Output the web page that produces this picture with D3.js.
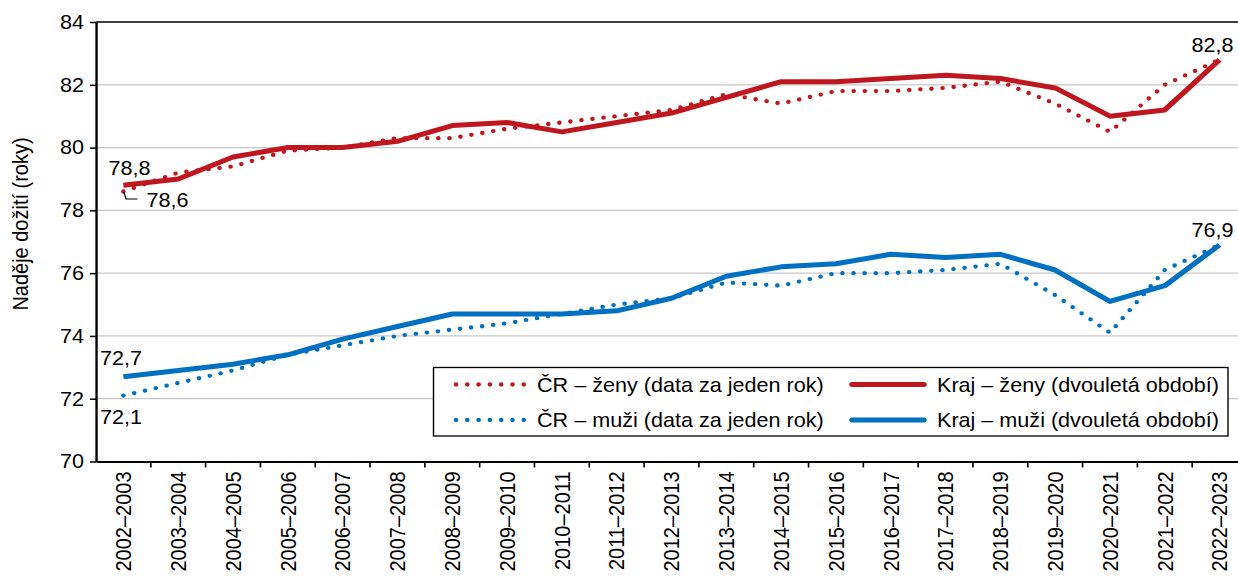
<!DOCTYPE html>
<html>
<head>
<meta charset="utf-8">
<script src="https://cdn.jsdelivr.net/npm/d3@7"></script>
<style>
  body { margin: 0; background: #fff; }
  svg { display: block; font-family: Arial, "Liberation Sans", sans-serif; }
</style>
</head>
<body>
<div id="chart"></div>
<script>
var categories = ["2002–2003", "2003–2004", "2004–2005", "2005–2006", "2006–2007", "2007–2008",
    "2008–2009", "2009–2010", "2010–2011", "2011–2012", "2012–2013", "2013–2014", "2014–2015",
    "2015–2016", "2016–2017", "2017–2018", "2018–2019", "2019–2020", "2020–2021", "2021–2022", "2022–2023"];

var crZeny   = [78.6, 79.2, 79.4, 79.9, 80.0, 80.3, 80.3, 80.6, 80.8, 81.0, 81.2, 81.7, 81.4, 81.8, 81.8, 81.9, 82.1, 81.4, 80.5, 82.0, 82.8];
var krajZeny = [78.8, 79.0, 79.7, 80.0, 80.0, 80.2, 80.7, 80.8, 80.5, 80.8, 81.1, 81.6, 82.1, 82.1, 82.2, 82.3, 82.2, 81.9, 81.0, 81.2, 82.8];
var crMuzi   = [72.1, 72.5, 72.9, 73.4, 73.7, 74.0, 74.2, 74.4, 74.7, 75.0, 75.2, 75.7, 75.6, 76.0, 76.0, 76.1, 76.3, 75.3, 74.1, 76.1, 76.9];
var krajMuzi = [72.7, 72.9, 73.1, 73.4, 73.9, 74.3, 74.7, 74.7, 74.7, 74.8, 75.2, 75.9, 76.2, 76.3, 76.6, 76.5, 76.6, 76.1, 75.1, 75.6, 76.9];

var yTicks = [70, 72, 74, 76, 78, 80, 82, 84];

var red = "#c0161f", blue = "#0070c0";

// the original picture is a bit wider than tall, so stretch x
var S = 1.08;
var width = 1238, height = 581;
var innerW = width / S;

var x = d3.scaleBand()
    .domain(categories)
    .range([96 / S, 1247 / S]);

var y = d3.scaleLinear()
    .domain([70, 84])
    .range([461.5, 22]);

var cz = d3.formatLocale({decimal: ",", thousands: " ", grouping: [3], currency: ["", " Kč"]});
var fmt = cz.format(".1f");

var svg = d3.select("#chart").append("svg")
    .attr("width", width)
    .attr("height", height)
    .attr("viewBox", "0 0 " + innerW + " " + height)
    .attr("preserveAspectRatio", "none");

var x0 = x.range()[0], x1 = x.range()[1];
function cx(i) { return x(categories[i]) + x.bandwidth() / 2; }

// gridlines
svg.append("g").selectAll("line")
    .data(yTicks.filter(function(d) { return d > 70 && d < 84; }))
    .enter().append("line")
    .attr("x1", x0).attr("x2", x1)
    .attr("y1", function(d) { return y(d); })
    .attr("y2", function(d) { return y(d); })
    .attr("stroke", "#c8c8c8")
    .attr("stroke-width", 1.3);

// top border
svg.append("line")
    .attr("x1", x0).attr("x2", x1)
    .attr("y1", y(84)).attr("y2", y(84))
    .attr("stroke", "#000").attr("stroke-width", 1.6);

// y axis
var yAxis = svg.append("g")
    .attr("transform", "translate(" + x0 + ",0)")
    .call(d3.axisLeft(y).tickValues(yTicks).tickSize(6 / S).tickSizeOuter(0).tickPadding(6 / S).tickFormat(d3.format("d")));
yAxis.select(".domain").attr("stroke-width", 2.2);
yAxis.selectAll(".tick line").attr("stroke-width", 1.5);
yAxis.selectAll("text").style("font-size", "20px").attr("fill", "#000");

// x axis, ticks between categories
var xAxis = svg.append("g")
    .attr("transform", "translate(0," + y(70) + ")")
    .call(d3.axisBottom(x).tickSize(0).tickSizeOuter(0));
xAxis.select(".domain").attr("stroke-width", 2.2);
xAxis.selectAll(".tick text")
    .style("font-size", "20px")
    .attr("fill", "#000")
    .attr("transform", "rotate(-90)")
    .attr("x", -10)
    .attr("y", 0)
    .attr("dy", "0.36em")
    .style("text-anchor", "end");
xAxis.append("g").selectAll("line")
    .data(categories.slice(1))
    .enter().append("line")
    .attr("x1", function(d) { return x(d); })
    .attr("x2", function(d) { return x(d); })
    .attr("y1", 0).attr("y2", 6)
    .attr("stroke", "#000").attr("stroke-width", 1.5);

svg.append("text")
    .attr("transform", "translate(" + (20 / S) + "," + 224 + ") rotate(-90)")
    .attr("text-anchor", "middle")
    .attr("dy", "0.35em")
    .style("font-size", "20px")
    .text("Naděje dožití (roky)");

var line = d3.line()
    .x(function(d, i) { return cx(i); })
    .y(function(d) { return y(d); });

var series = [
    {data: krajZeny, color: red, dotted: false},
    {data: krajMuzi, color: blue, dotted: false},
    {data: crZeny, color: red, dotted: true},
    {data: crMuzi, color: blue, dotted: true}
];

svg.append("g").selectAll("path")
    .data(series)
    .enter().append("path")
    .attr("d", function(d) { return line(d.data); })
    .attr("fill", "none")
    .attr("stroke", function(d) { return d.color; })
    .attr("stroke-width", function(d) { return d.dotted ? 4.3 : 5; })
    .attr("stroke-linecap", function(d) { return d.dotted ? "round" : "butt"; })
    .attr("stroke-linejoin", "round")
    .attr("stroke-dasharray", function(d) { return d.dotted ? "0 10.3" : null; });

// data labels
var last = categories.length - 1;
var labels = [
    {i: 0, v: krajZeny[0], dx: -15, dy: -10, anchor: "start"},
    {i: 0, v: crZeny[0], dx: 23, dy: 15.5, anchor: "start"},
    {i: 0, v: krajMuzi[0], dx: -23.5, dy: -11.5, anchor: "start"},
    {i: 0, v: crMuzi[0], dx: -23.5, dy: 28.5, anchor: "start"},
    {i: last, v: krajZeny[last], dx: -7, dy: -8, anchor: "middle"},
    {i: last, v: krajMuzi[last], dx: -7, dy: -8, anchor: "middle"}
];
svg.append("g").selectAll("text")
    .data(labels)
    .enter().append("text")
    .attr("x", function(d) { return cx(d.i) + d.dx / S; })
    .attr("y", function(d) { return y(d.v) + d.dy; })
    .attr("text-anchor", function(d) { return d.anchor; })
    .style("font-size", "20px")
    .text(function(d) { return fmt(d.v); });

// leader for 78,6
var lx = cx(0), ly = y(crZeny[0]);
svg.append("path")
    .attr("d", d3.line()([[lx + 0.5 / S, ly + 0.5], [lx + 2.6 / S, ly + 7.5], [lx + 14 / S, ly + 7.5]]))
    .attr("fill", "none")
    .attr("stroke", "#000")
    .attr("stroke-width", 1.1);

// legend
var legendItems = [
    {name: "ČR – ženy (data za jeden rok)", color: red, dotted: true, col: 0, row: 0},
    {name: "Kraj – ženy (dvouletá období)", color: red, dotted: false, col: 1, row: 0},
    {name: "ČR – muži (data za jeden rok)", color: blue, dotted: true, col: 0, row: 1},
    {name: "Kraj – muži (dvouletá období)", color: blue, dotted: false, col: 1, row: 1}
];
var colX = [456, 854], rowY = [384.5, 420];

svg.append("rect")
    .attr("x", 433.5 / S).attr("y", 367.5)
    .attr("width", (1228 - 433.5) / S).attr("height", 436 - 367.5)
    .attr("fill", "#fff")
    .attr("stroke", "#000").attr("stroke-width", 1.3);

var leg = svg.append("g").selectAll("g")
    .data(legendItems)
    .enter().append("g")
    .attr("transform", function(d) { return "translate(" + (colX[d.col] / S) + "," + rowY[d.row] + ")"; });

leg.append("line")
    .attr("x1", function(d) { return d.dotted ? 0 : -2 / S; })
    .attr("x2", function(d) { return d.dotted ? 68 / S : 70 / S; })
    .attr("stroke", function(d) { return d.color; })
    .attr("stroke-width", function(d) { return d.dotted ? 4.3 : 5; })
    .attr("stroke-linecap", "round")
    .attr("stroke-dasharray", function(d) { return d.dotted ? "0 " + (11.3 / S) : null; });

leg.append("text")
    .attr("x", function(d) { return (d.dotted ? 81 : 83) / S; })
    .attr("dy", "0.36em")
    .style("font-size", "20px")
    .text(function(d) { return d.name; });
</script>
</body>
</html>
